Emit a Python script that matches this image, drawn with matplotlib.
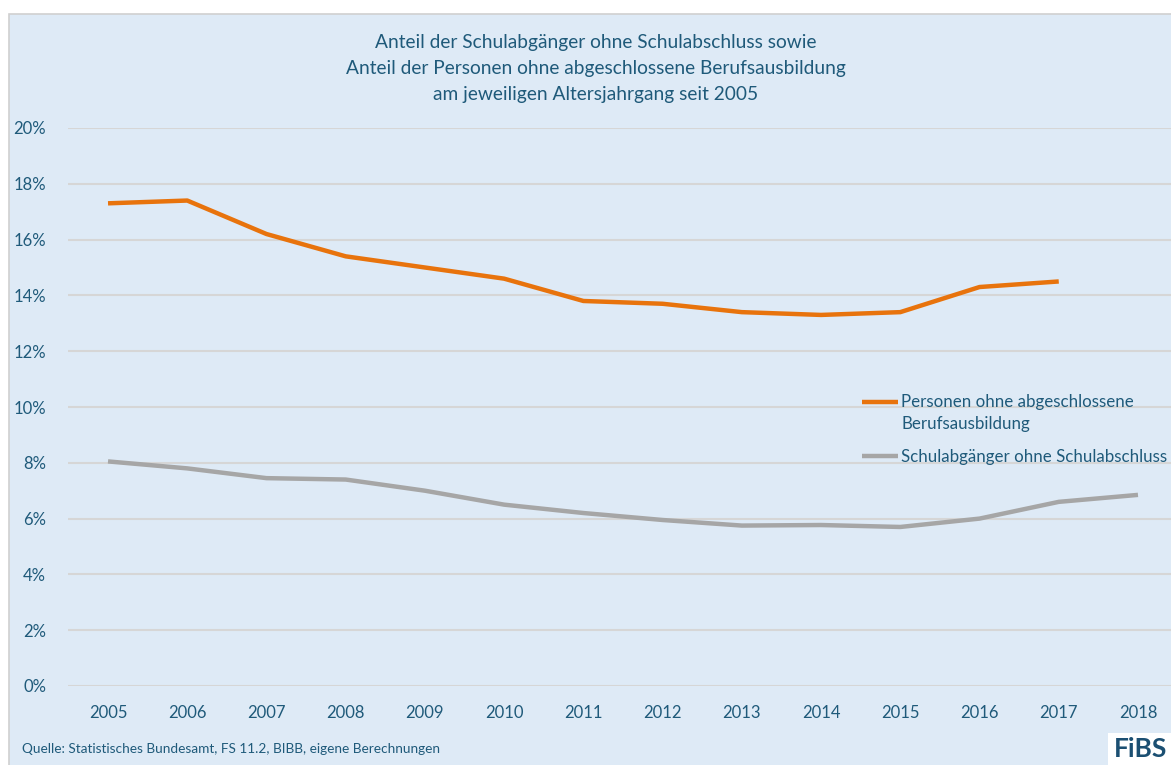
import matplotlib.pyplot as plt
from matplotlib.patches import Rectangle
from matplotlib.ticker import FuncFormatter
from matplotlib.legend_handler import HandlerLine2D

plt.rcParams['font.family'] = ['Lato', 'DejaVu Sans']

years = [2005, 2006, 2007, 2008, 2009, 2010, 2011, 2012, 2013, 2014, 2015, 2016, 2017, 2018]
ohne_ausbildung = [17.3, 17.4, 16.2, 15.4, 15.0, 14.6, 13.8, 13.7, 13.4, 13.3, 13.4, 14.3, 14.5]
ohne_abschluss = [8.05, 7.8, 7.45, 7.4, 7.0, 6.5, 6.2, 5.95, 5.75, 5.77, 5.7, 6.0, 6.6, 6.85]

label_ausbildung = "Personen ohne abgeschlossene\nBerufsausbildung"
label_abschluss = "Schulabgänger ohne Schulabschluss"
title = ("Anteil der Schulabgänger ohne Schulabschluss sowie\n"
         "Anteil der Personen ohne abgeschlossene Berufsausbildung\n"
         "am jeweiligen Altersjahrgang seit 2005")

W, H = 1171, 765
bg = '#deeaf6'
txt = '#1f5a7a'


class TopLine(HandlerLine2D):
    # put the legend line next to the first text line instead of the middle
    def __init__(self, shift=0, **kw):
        super().__init__(**kw)
        self.shift = shift

    def create_artists(self, legend, orig_handle, xdescent, ydescent, width, height, fontsize, trans):
        arts = super().create_artists(legend, orig_handle, xdescent, ydescent, width, height, fontsize, trans)
        for a in arts:
            a.set_ydata([y + self.shift for y in a.get_ydata()])
        return arts


fig = plt.figure(figsize=(W / 100, H / 100), dpi=100)
fig.patch.set_facecolor('white')
# light blue panel behind everything
fig.patches.append(Rectangle((9 / W, -0.01), 1.0, (H - 14) / H + 0.01, transform=fig.transFigure,
                             facecolor=bg, edgecolor='#d0d0d0', linewidth=1.2, zorder=-10))

ax = fig.add_axes([68.4 / W, 79 / H, 1109.2 / W, 558 / H])
ax.set_facecolor('none')
x = list(range(len(years)))
l1, = ax.plot(x[:len(ohne_ausbildung)], ohne_ausbildung, color='#e8730c', lw=3.2,
              solid_capstyle='butt', label=label_ausbildung)
l2, = ax.plot(x, ohne_abschluss, color='#a6a6a6', lw=3.2,
              solid_capstyle='butt', label=label_abschluss)

ax.set_xlim(-0.5, len(years) - 0.5)
ax.set_ylim(0, 20)
ax.set_yticks(range(0, 21, 2))
ax.yaxis.set_major_formatter(FuncFormatter(lambda v, p: f"{v:.0f}%"))
ax.set_xticks(x)
ax.set_xticklabels([str(y) for y in years])
ax.grid(axis='y', color='#d6d6d6', lw=1.5)
ax.set_axisbelow(True)
for s in ax.spines.values():
    s.set_visible(False)
ax.tick_params(length=0, labelsize=12, labelcolor=txt)
ax.tick_params(axis='y', pad=16)
ax.tick_params(axis='x', pad=14)

fig.text(596 / W, (H - 34) / H, title, ha='center', va='top', fontsize=13.75,
         color=txt, linespacing=1.65)
fig.text(22 / W, (H - 749) / H, "Quelle: Statistisches Bundesamt, FS 11.2, BIBB, eigene Berechnungen",
         ha='left', va='center', fontsize=9.8, color=txt)

# logo
fig.patches.append(Rectangle((1108 / W, 0), 63 / W, 32 / H, transform=fig.transFigure,
                             facecolor='white', edgecolor='none', zorder=1))
fig.text(1140.5 / W, (H - 749) / H, "FiBS", ha='center', va='center', fontsize=19,
         fontweight='bold', color='#1b4f72', zorder=2)

leg = ax.legend(handles=[l1, l2], loc='upper left', bbox_to_anchor=(854 / W, (H - 386) / H),
                bbox_transform=fig.transFigure, frameon=False, fontsize=12.2,
                handlelength=2.1, handletextpad=0.2, labelspacing=1.0, borderpad=0,
                handler_map={l1: TopLine(shift=8.5)})
for t in leg.get_texts():
    t.set_color(txt)
    t.set_linespacing(1.45)

fig.savefig('out.png', dpi=100, facecolor=fig.get_facecolor())
